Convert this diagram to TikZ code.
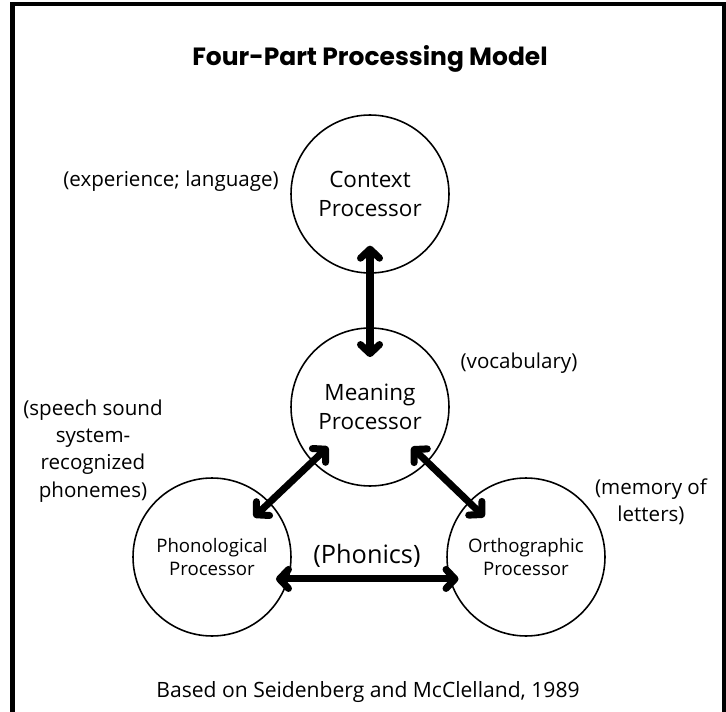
\documentclass[tikz,border=0pt]{standalone}
\usepackage{fontspec}
\setmainfont{Open Sans}
\newfontfamily\titlefont{Poppins}
\usetikzlibrary{arrows.meta}

\begin{document}
\begin{tikzpicture}[x=0.02cm,y=-0.02cm,
  proc/.style={circle,draw,line width=0.9pt,minimum size=3.16cm,inner sep=0pt,
    align=center,font=\fontsize{12.8}{16.5}\selectfont},
  smallproc/.style={proc,font=\fontsize{10.6}{13.5}\selectfont},
  note/.style={align=center,font=\fontsize{11.7}{15.5}\selectfont},
  arr/.style={{Straight Barb[round,length=1.8mm,width=3.8mm]}-{Straight Barb[round,length=1.8mm,width=3.8mm]},
    line width=4pt,line cap=round}]

  \clip (0,0) rectangle (726,712);
  \draw[line width=2.8pt] (12.5,4) rectangle (724,740);

  \node[font=\titlefont\bfseries\fontsize{14.2}{17}\selectfont] (title) at (370,59) {Four-Part Processing Model};

  \node[proc] (ctx) at (370,194) {Context\\Processor};
  \node[proc] (mean) at (370,407) {Meaning\\Processor};
  \node[smallproc] (phon) at (212,557) {Phonological\\Processor};
  \node[smallproc] (orth) at (526,557) {Orthographic\\Processor};

  \node[note] (ctxnote) at (171,181) {(experience; language)};
  \node[note] (meannote) at (519,363) {(vocabulary)};
  \node[note] (phonnote) at (93,451) {(speech sound\\system-\\recognized\\phonemes)};
  \node[note] (orthnote) at (651,502) {(memory of\\letters)};
  \node[note,font=\fontsize{14.4}{17}\selectfont] (phonics) at (367,556) {(Phonics)};

  \node[note,font=\fontsize{12}{15}\selectfont] (source) at (368,692) {Based on Seidenberg and McClelland, 1989};

  \draw[arr,shorten <=-16pt,shorten >=-17pt] (ctx) -- (mean);
  \draw[arr,shorten <=-12.5pt,shorten >=-12.5pt] (mean) -- (phon);
  \draw[arr,shorten <=-12.5pt,shorten >=-12.5pt] (mean) -- (orth);
  \draw[arr,shorten <=-9pt,shorten >=-7pt] ([yshift=-12.5pt]phon.east) -- ([yshift=-12.5pt]orth.west);
\end{tikzpicture}
\end{document}
